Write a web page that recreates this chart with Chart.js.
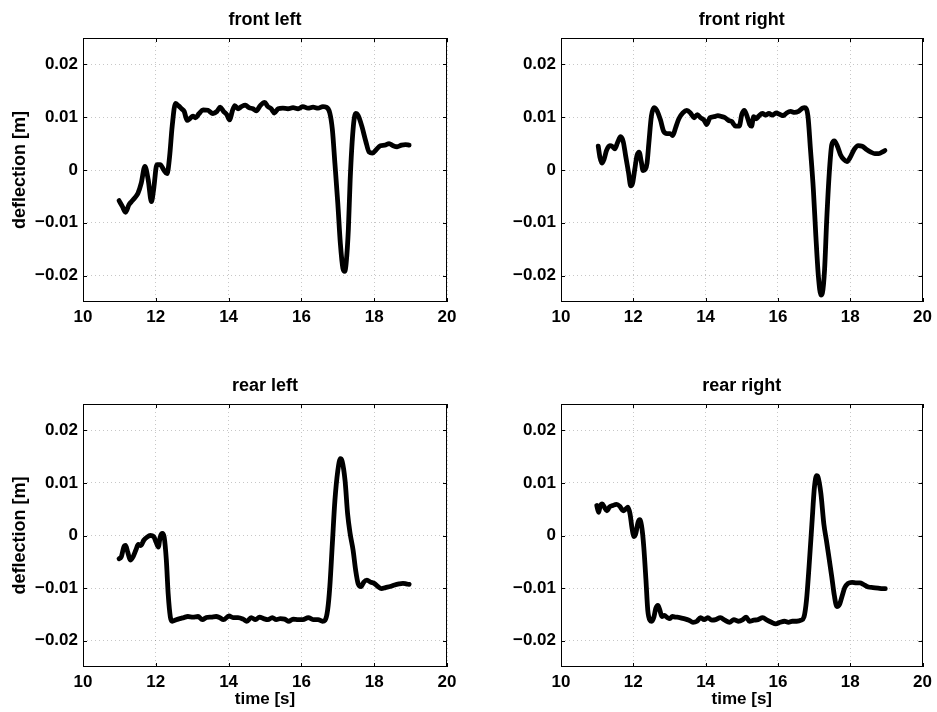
<!DOCTYPE html>
<html>
<head>
<meta charset="utf-8">
<script src="https://cdn.jsdelivr.net/npm/chart.js@4.4.1/dist/chart.umd.min.js"></script>
<style>
  html, body { margin: 0; padding: 0; background: #fff; }
  #wrap { position: relative; width: 937px; height: 712px; overflow: hidden; background: #fff; }
  canvas { position: absolute; }
</style>
</head>
<body>
<div id="wrap">
  <canvas id="frontLeft"  width="478" height="356" style="left:0px;top:0px"></canvas>
  <canvas id="frontRight" width="459" height="356" style="left:478px;top:0px"></canvas>
  <canvas id="rearLeft"   width="478" height="356" style="left:0px;top:356px"></canvas>
  <canvas id="rearRight"  width="459" height="356" style="left:478px;top:356px"></canvas>
</div>
<script>
// Axis ticks shared by all four wheel panels
const xTicks = [10, 12, 14, 16, 18, 20];
const xTickLabels = ['10', '12', '14', '16', '18', '20'];
const yTicks = [-0.02, -0.01, 0, 0.01, 0.02];
const yTickLabels = ['\u22120.02', '\u22120.01', '0', '0.01', '0.02'];
const yAxisTitle = 'deflection [m]';
const xAxisTitle = 'time [s]';

// Front left suspension deflection
const frontLeftTime = [10.99,11.08,11.17,11.26,11.33,11.42,11.51,11.60,11.70,11.79,
  11.88,11.94,12.03,12.12,12.22,12.31,12.38,12.45,12.54,12.62,
  12.71,12.78,12.86,12.93,13.02,13.09,13.19,13.30,13.43,13.57,
  13.68,13.77,13.86,13.95,14.03,14.10,14.17,14.26,14.35,14.46,
  14.56,14.67,14.76,14.87,14.99,15.08,15.17,15.26,15.36,15.49,
  15.63,15.77,15.91,16.04,16.18,16.32,16.46,16.59,16.68,16.78,
  16.85,16.92,17.00,17.07,17.14,17.19,17.23,17.29,17.34,17.42,
  17.49,17.56,17.66,17.77,17.86,17.95,18.06,18.17,18.29,18.41,
  18.52,18.63,18.75,18.86,18.96];
const frontLeftDeflection = [-0.0058,-0.0069,-0.0080,-0.0066,-0.0060,-0.0053,-0.0044,-0.0025,0.0007,-0.0018,
  -0.0060,-0.0037,0.0010,0.0010,0.0000,-0.0007,0.0026,0.0083,0.0126,0.0122,
  0.0116,0.0111,0.0094,0.0097,0.0102,0.0099,0.0107,0.0114,0.0113,0.0107,
  0.0111,0.0119,0.0111,0.0105,0.0095,0.0111,0.0122,0.0116,0.0120,0.0123,
  0.0118,0.0116,0.0112,0.0122,0.0128,0.0120,0.0116,0.0108,0.0116,0.0117,
  0.0116,0.0118,0.0116,0.0120,0.0117,0.0119,0.0117,0.0120,0.0119,0.0108,
  0.0077,0.0013,-0.0063,-0.0139,-0.0186,-0.0192,-0.0176,-0.0113,-0.0018,0.0077,
  0.0107,0.0103,0.0083,0.0054,0.0034,0.0032,0.0039,0.0046,0.0047,0.0050,
  0.0046,0.0044,0.0047,0.0048,0.0047];

// Front right suspension deflection
const frontRightTime = [11.03,11.08,11.13,11.19,11.26,11.35,11.43,11.49,11.56,11.65,
  11.72,11.79,11.87,11.93,11.98,12.04,12.10,12.16,12.22,12.27,
  12.33,12.38,12.43,12.50,12.57,12.65,12.75,12.84,12.93,13.02,
  13.09,13.17,13.26,13.37,13.48,13.59,13.68,13.77,13.86,13.96,
  14.03,14.12,14.23,14.34,14.45,14.54,14.63,14.72,14.83,14.93,
  15.00,15.07,15.14,15.22,15.27,15.33,15.40,15.47,15.57,15.66,
  15.75,15.84,15.95,16.06,16.15,16.24,16.35,16.46,16.57,16.68,
  16.74,16.83,16.90,16.98,17.05,17.12,17.19,17.23,17.29,17.35,
  17.42,17.49,17.56,17.64,17.73,17.82,17.91,18.00,18.11,18.22,
  18.33,18.45,18.57,18.68,18.79,18.91,18.96];
const frontRightDeflection = [0.0045,0.0023,0.0013,0.0020,0.0037,0.0046,0.0044,0.0040,0.0051,0.0063,
  0.0054,0.0026,-0.0006,-0.0030,-0.0025,0.0001,0.0027,0.0034,0.0016,-0.0001,
  0.0001,0.0013,0.0051,0.0102,0.0118,0.0113,0.0095,0.0073,0.0069,0.0069,
  0.0065,0.0080,0.0097,0.0108,0.0113,0.0107,0.0099,0.0105,0.0099,0.0094,
  0.0086,0.0099,0.0101,0.0103,0.0101,0.0099,0.0094,0.0092,0.0083,0.0083,
  0.0105,0.0113,0.0103,0.0086,0.0083,0.0101,0.0097,0.0102,0.0107,0.0104,
  0.0107,0.0104,0.0108,0.0105,0.0103,0.0108,0.0111,0.0109,0.0111,0.0117,
  0.0118,0.0102,0.0039,-0.0037,-0.0126,-0.0202,-0.0237,-0.0233,-0.0189,-0.0094,
  -0.0006,0.0048,0.0055,0.0046,0.0029,0.0020,0.0016,0.0024,0.0039,0.0046,
  0.0045,0.0039,0.0034,0.0031,0.0031,0.0035,0.0037];

// Rear left suspension deflection
const rearLeftTime = [10.99,11.05,11.12,11.17,11.23,11.30,11.37,11.45,11.52,11.59,
  11.67,11.76,11.85,11.94,12.01,12.07,12.12,12.18,12.23,12.29,
  12.34,12.40,12.45,12.56,12.66,12.77,12.88,13.02,13.16,13.28,
  13.39,13.53,13.66,13.75,13.86,14.01,14.12,14.26,14.40,14.50,
  14.62,14.74,14.85,14.96,15.08,15.20,15.31,15.42,15.54,15.66,
  15.77,15.91,16.04,16.19,16.32,16.46,16.58,16.65,16.72,16.78,
  16.85,16.92,17.00,17.07,17.12,17.20,17.27,17.34,17.42,17.49,
  17.56,17.64,17.71,17.80,17.91,18.00,18.10,18.20,18.31,18.44,
  18.56,18.68,18.79,18.88,18.96];
const rearLeftDeflection = [-0.0044,-0.0041,-0.0022,-0.0019,-0.0032,-0.0047,-0.0041,-0.0028,-0.0017,-0.0019,
  -0.0009,-0.0003,0.0000,-0.0002,-0.0013,-0.0022,-0.0003,0.0004,-0.0003,-0.0047,
  -0.0111,-0.0155,-0.0163,-0.0160,-0.0158,-0.0156,-0.0154,-0.0155,-0.0154,-0.0160,
  -0.0156,-0.0155,-0.0154,-0.0156,-0.0160,-0.0153,-0.0156,-0.0156,-0.0159,-0.0163,
  -0.0156,-0.0160,-0.0155,-0.0158,-0.0160,-0.0156,-0.0160,-0.0158,-0.0159,-0.0163,
  -0.0159,-0.0160,-0.0160,-0.0156,-0.0160,-0.0160,-0.0163,-0.0161,-0.0142,-0.0098,
  -0.0016,0.0066,0.0123,0.0146,0.0141,0.0104,0.0041,0.0003,-0.0028,-0.0066,
  -0.0092,-0.0097,-0.0089,-0.0085,-0.0089,-0.0091,-0.0097,-0.0101,-0.0099,-0.0097,
  -0.0094,-0.0092,-0.0091,-0.0092,-0.0093];

// Rear right suspension deflection
const rearRightTime = [10.99,11.04,11.08,11.14,11.20,11.27,11.34,11.43,11.54,11.63,
  11.72,11.80,11.85,11.91,11.96,12.02,12.07,12.13,12.18,12.24,
  12.29,12.35,12.40,12.46,12.51,12.57,12.62,12.68,12.73,12.79,
  12.86,12.94,13.01,13.08,13.17,13.28,13.40,13.54,13.65,13.76,
  13.86,13.96,14.06,14.17,14.28,14.41,14.53,14.66,14.78,14.90,
  15.03,15.12,15.21,15.33,15.45,15.58,15.70,15.82,15.94,16.06,
  16.18,16.29,16.40,16.52,16.64,16.72,16.79,16.86,16.94,17.01,
  17.07,17.11,17.19,17.27,17.34,17.41,17.49,17.56,17.63,17.71,
  17.78,17.85,17.94,18.05,18.17,18.27,18.36,18.50,18.63,18.77,
  18.89,18.97];
const rearRightDeflection = [0.0057,0.0044,0.0055,0.0060,0.0054,0.0047,0.0054,0.0057,0.0059,0.0055,
  0.0047,0.0051,0.0054,0.0041,0.0016,-0.0002,0.0004,0.0025,0.0030,0.0013,
  -0.0022,-0.0085,-0.0142,-0.0161,-0.0163,-0.0155,-0.0139,-0.0133,-0.0141,-0.0154,
  -0.0152,-0.0156,-0.0158,-0.0154,-0.0155,-0.0156,-0.0158,-0.0161,-0.0165,-0.0163,
  -0.0156,-0.0160,-0.0156,-0.0161,-0.0160,-0.0156,-0.0161,-0.0165,-0.0160,-0.0163,
  -0.0160,-0.0155,-0.0163,-0.0161,-0.0160,-0.0156,-0.0161,-0.0165,-0.0168,-0.0165,
  -0.0163,-0.0165,-0.0163,-0.0163,-0.0161,-0.0155,-0.0123,-0.0060,0.0022,0.0092,
  0.0114,0.0111,0.0079,0.0022,-0.0009,-0.0041,-0.0079,-0.0114,-0.0135,-0.0130,
  -0.0114,-0.0099,-0.0091,-0.0089,-0.0090,-0.0090,-0.0093,-0.0098,-0.0099,-0.0100,
  -0.0101,-0.0101];

const FONT = '"Liberation Sans", Arial, Helvetica, sans-serif';
Chart.defaults.color = '#000';
Chart.defaults.font.family = FONT;

// Box around the plot area, inward tick marks on all four sides, and the panel title
const boxPlugin = {
  id: 'axesBox',
  afterDatasetsDraw(chart, args, opts) {
    const { ctx, chartArea: a, scales } = chart;
    const xs = scales.x, ys = scales.y;
    const len = 4;
    ctx.save();
    ctx.strokeStyle = '#000';
    ctx.lineWidth = 1;
    ctx.strokeRect(Math.round(a.left) + 0.5, Math.round(a.top) + 0.5,
                   Math.round(a.width) - 1, Math.round(a.height) - 1);
    ctx.beginPath();
    xTicks.forEach(v => {
      const px = Math.round(xs.getPixelForValue(v)) + 0.5;
      ctx.moveTo(px, a.bottom); ctx.lineTo(px, a.bottom - len);
      ctx.moveTo(px, a.top);    ctx.lineTo(px, a.top + len);
    });
    yTicks.forEach(v => {
      const py = Math.round(ys.getPixelForValue(v)) + 0.5;
      ctx.moveTo(a.left, py);  ctx.lineTo(a.left + len, py);
      ctx.moveTo(a.right, py); ctx.lineTo(a.right - len, py);
    });
    ctx.stroke();
    ctx.fillStyle = '#000';
    ctx.font = 'bold 18px ' + FONT;
    ctx.textAlign = 'center';
    ctx.textBaseline = 'middle';
    ctx.fillText(opts.text, (a.left + a.right) / 2, a.top - 18);
    ctx.restore();
  }
};

function makePanel(id, title, times, values, opt) {
  const points = times.map((t, i) => ({ x: t, y: values[i] }));
  return new Chart(document.getElementById(id), {
    type: 'line',
    data: {
      datasets: [{
        data: points,
        borderColor: '#000',
        borderWidth: 4.8,
        borderCapStyle: 'round',
        borderJoinStyle: 'round',
        cubicInterpolationMode: 'monotone',
        pointRadius: 0,
        fill: false
      }]
    },
    options: {
      responsive: false,
      animation: false,
      devicePixelRatio: 1,
      layout: { padding: { top: opt.top, right: opt.right, left: 0, bottom: 0 } },
      plugins: {
        legend: { display: false },
        tooltip: { enabled: false },
        axesBox: { text: title }
      },
      scales: {
        x: {
          type: 'linear',
          min: 10, max: 20,
          afterBuildTicks: s => { s.ticks = xTicks.map(v => ({ value: v })); },
          afterFit: s => { s.height = opt.xHeight; },
          ticks: {
            autoSkip: false, maxRotation: 0, padding: 5,
            font: { size: 17, weight: 'bold' },
            callback: (v, i) => xTickLabels[i]
          },
          grid: { color: 'rgba(0,0,0,0.22)', lineWidth: 1, drawTicks: false },
          border: { display: false, dash: [1, 3] },
          title: {
            display: opt.xTitle, text: xAxisTitle,
            font: { size: 17, weight: 'bold' }, padding: { top: 0, bottom: 2 }
          }
        },
        y: {
          type: 'linear',
          min: -0.025, max: 0.025,
          afterBuildTicks: s => { s.ticks = yTicks.map(v => ({ value: v })); },
          afterFit: s => { s.width = 83; },
          ticks: {
            autoSkip: false, padding: 5,
            font: { size: 17, weight: 'bold' },
            callback: (v, i) => yTickLabels[i]
          },
          grid: { color: 'rgba(0,0,0,0.22)', lineWidth: 1, drawTicks: false },
          border: { display: false, dash: [1, 3] },
          title: {
            display: opt.yTitle, text: yAxisTitle,
            font: { size: 18, weight: 'bold' }, padding: { top: 9, bottom: 0 }
          }
        }
      }
    },
    plugins: [boxPlugin]
  });
}

makePanel('frontLeft',  'front left',  frontLeftTime,  frontLeftDeflection,
  { top: 38, right: 31, xHeight: 54, xTitle: false, yTitle: true });
makePanel('frontRight', 'front right', frontRightTime, frontRightDeflection,
  { top: 38, right: 13, xHeight: 54, xTitle: false, yTitle: false });
makePanel('rearLeft',   'rear left',   rearLeftTime,   rearLeftDeflection,
  { top: 48, right: 31, xHeight: 45, xTitle: true, yTitle: true });
makePanel('rearRight',  'rear right',  rearRightTime,  rearRightDeflection,
  { top: 48, right: 13, xHeight: 45, xTitle: true, yTitle: false });
</script>
</body>
</html>
